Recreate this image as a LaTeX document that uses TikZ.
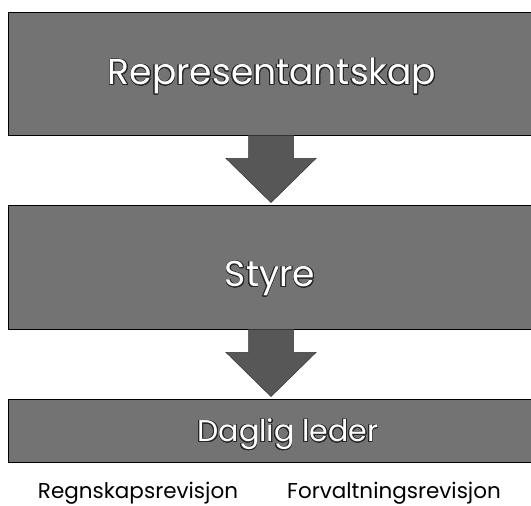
\documentclass[tikz,border=0pt]{standalone}
\usepackage{fontspec}
\setmainfont{Poppins}
\usepackage{contour}
\contourlength{0.7pt}
\contournumber{24}
\usetikzlibrary{calc}
\tikzset{
  x=1pt, y=1pt,
  levelbox/.style={draw=black, line width=0.9pt, fill=black!55, minimum width=526pt, inner sep=0pt},
  boxtext/.style={anchor=base, font=\fontsize{36}{40}\selectfont, inner sep=0pt},
  bottomtext/.style={anchor=base, font=\fontsize{21.5}{24}\selectfont, text=black, inner sep=0pt},
  blockarrow/.style={fill=black!66, draw=black!80, line width=0.5pt},
}
\newcommand{\outlined}[1]{\contour{black!85}{\textcolor{white}{#1}}}
\begin{document}
\begin{tikzpicture}
\useasboundingbox (0,0) rectangle (531,506);
\node[levelbox, minimum height=123pt] (b1) at (271,432.5) {};
\node[levelbox, minimum height=124pt] (b2) at (271,239) {};
\node[levelbox, minimum height=63pt] (b3) at (271,75.5) {};
\node[boxtext] (t1) at (272,421) {\outlined{Representantskap}};
\node[boxtext] (t2) at (270,219) {\outlined{Styre}};
\node[boxtext, font=\fontsize{30}{34}\selectfont] (t3) at (288,64) {\outlined{Daglig leder}};
\draw[blockarrow] ($(b1.south)+(-22.5,0)$) -- ++(0,-23) -- ++(-22.5,0) -- ($(b2.north)+(0,2)$) -- ($(b1.south)+(45,-23)$) -- ++(-22.5,0) -- ($(b1.south)+(22.5,0)$) -- cycle;
\draw[blockarrow] ($(b2.south)+(-22.5,0)$) -- ++(0,-23) -- ++(-22.5,0) -- ($(b3.north)+(0,2)$) -- ($(b2.south)+(45,-23)$) -- ++(-22.5,0) -- ($(b2.south)+(22.5,0)$) -- cycle;
\node[bottomtext] (r1) at (138,7) {Regnskapsrevisjon};
\node[bottomtext] (r2) at (394,7) {Forvaltningsrevisjon};
\end{tikzpicture}
\end{document}
